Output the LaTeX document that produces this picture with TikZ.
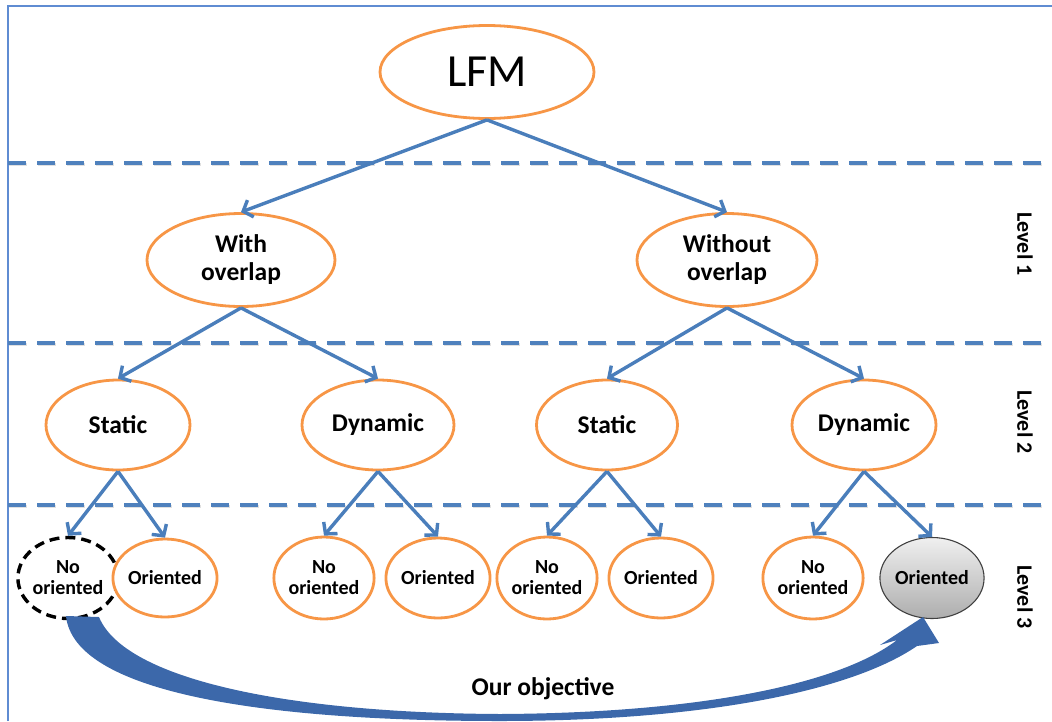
\documentclass[tikz,border=0pt]{standalone}
\usepackage{fontspec}
\setmainfont{Carlito}
\usetikzlibrary{shapes.geometric,arrows.meta}

\definecolor{nodeorange}{RGB}{247,150,70}
\definecolor{linkblue}{RGB}{74,126,187}
\definecolor{sepblue}{RGB}{79,129,189}
\definecolor{objblue}{RGB}{60,104,170}
\definecolor{framblue}{RGB}{95,140,210}

\tikzset{
  oval/.style={ellipse, draw=nodeorange, line width=2.8pt, fill=white,
    inner sep=0pt, align=center},
  rootoval/.style={oval, font=\fontsize{46}{50}\selectfont},
  midoval/.style={oval, font=\bfseries\fontsize{25.5}{28}\selectfont},
  leafoval/.style={oval, font=\bfseries\fontsize{20}{21}\selectfont,
    minimum width=90pt, minimum height=80pt},
  chosenleaf/.style={leafoval, draw=black, dash pattern=on 10pt off 6pt,
    line width=3.4pt},
  goalleaf/.style={leafoval, draw=black!75, line width=1.1pt,
    top color=black!6, bottom color=black!32},
  link/.style={draw=linkblue, line width=3.4pt,
    -{Straight Barb[length=8pt,width=18pt]}},
  levelsep/.style={sepblue, line width=4pt, dash pattern=on 18pt off 11pt},
  sepshadow/.style={black!12, line width=3pt, dash pattern=on 18pt off 11pt},
  levellabel/.style={rotate=-90, font=\bfseries\fontsize{22}{24}\selectfont},
  objarrow/.style={fill=objblue}
}

\begin{document}
\begin{tikzpicture}[x=1pt,y=-1pt]
\useasboundingbox (0,0) rectangle (1052,721);

% outer frame (top and left edges)
\draw[framblue, line width=2pt] (8,721) -- (8,6) -- (1052,6);

% level separators with soft shadow
\foreach \yy in {163,343,505} {
  \draw[sepshadow] (9,\yy+1.8) -- (1052,\yy+1.8);
  \draw[levelsep] (8,\yy) -- (1052,\yy);
}

% level labels
\node[levellabel] (lv1) at (1025,244) {Level 1};
\node[levellabel] (lv2) at (1025,422) {Level 2};
\node[levellabel] (lv3) at (1025,597) {Level 3};

% root
\node[rootoval, minimum width=214pt, minimum height=93pt] (lfm) at (487,72) {LFM};

% level 1
\node[midoval, minimum width=188pt, minimum height=93pt] (wo) at (241,260) {With\\overlap};
\node[midoval, minimum width=180pt, minimum height=93pt] (wto) at (727,260) {Without\\overlap};

% level 2
\node[midoval, minimum width=144pt, minimum height=90pt] (st1) at (118,425) {Static};
\node[midoval, minimum width=152pt, minimum height=90pt] (dy1) at (378,425) {Dynamic};
\node[midoval, minimum width=141pt, minimum height=90pt] (st2) at (607,425) {Static};
\node[midoval, minimum width=144pt, minimum height=90pt] (dy2) at (864,425) {Dynamic};

% level 3
\node[chosenleaf, minimum width=92pt, minimum height=81pt] (no1) at (68,578) {No\\oriented};
\node[leafoval, minimum width=94pt, minimum height=78pt] (or1) at (165,578) {Oriented};
\node[leafoval, minimum width=88pt, minimum height=82pt] (no2) at (324,578) {No\\oriented};
\node[leafoval] (or2) at (438,578) {Oriented};
\node[leafoval, minimum width=86pt, minimum height=82pt] (no3) at (547,578) {No\\oriented};
\node[leafoval] (or3) at (661,578) {Oriented};
\node[leafoval, minimum width=88pt, minimum height=82pt] (no4) at (813,578) {No\\oriented};
\node[goalleaf, minimum width=93pt, minimum height=81pt] (or4) at (932,578) {Oriented};

% tree connectors
\draw[link] (lfm.south) -- (wo.north);
\draw[link] (lfm.south) -- (wto.north);
\draw[link] (wo.south) -- (st1.north);
\draw[link] (wo.south) -- (dy1.north);
\draw[link] (wto.south) -- (st2.north);
\draw[link] (wto.south) -- (dy2.north);
\draw[link] (st1.south) -- (no1.north);
\draw[link] (st1.south) -- (or1.north);
\draw[link] (dy1.south) -- (no2.north);
\draw[link] (dy1.south) -- (or2.north);
\draw[link] (st2.south) -- (no3.north);
\draw[link] (st2.south) -- (or3.north);
\draw[link] (dy2.south) -- (no4.north);
\draw[link] (dy2.south) -- (or4.north);

% curved block arrow from the chosen leaf to the goal leaf
\fill[objarrow]
  (66,616) .. controls (74,692) and (260,721) .. (500,721)
  .. controls (700,721) and (850,692) .. (917,646)
  -- (939,643) -- (923,617) -- (880,645) -- (897,640)
  .. controls (840,684) and (700,713) .. (500,714)
  .. controls (290,713) and (125,680) .. (99,617) -- cycle;

\node[font=\bfseries\fontsize{25.5}{28}\selectfont] (goal) at (543,689) {Our objective};
\end{tikzpicture}
\end{document}
